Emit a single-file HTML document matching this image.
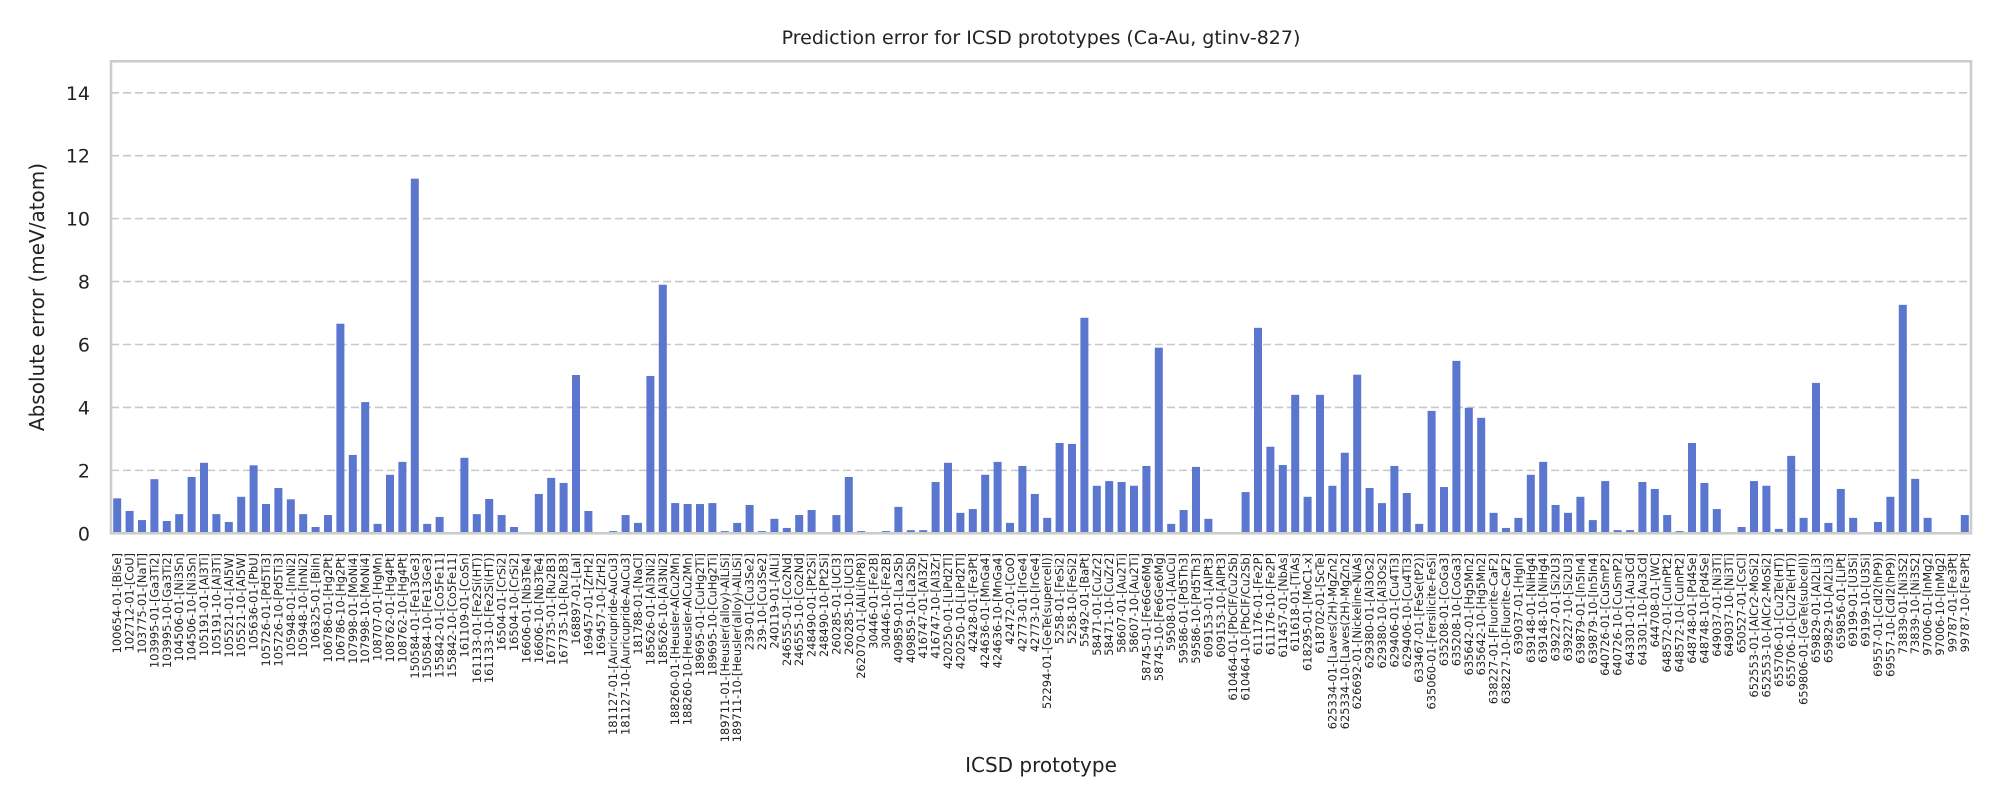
<!DOCTYPE html>
<html><head><meta charset="utf-8"><style>
html,body{margin:0;padding:0;background:#fff;}
svg{display:block;font-family:"DejaVu Sans","Liberation Sans",sans-serif;}
</style></head><body>
<svg id="chart" width="2000" height="800" viewBox="0 0 2000 800" xmlns="http://www.w3.org/2000/svg">
<text x="1041" y="44" font-size="19" text-anchor="middle" fill="#222">Prediction error for ICSD prototypes (Ca-Au, gtinv-827)</text>
<text transform="translate(44,297) rotate(-90)" font-size="20" text-anchor="middle" fill="#222">Absolute error (meV/atom)</text>
<text x="1041" y="772" font-size="20" text-anchor="middle" fill="#222">ICSD prototype</text>
<g id="grid"></g>
<g id="bars"></g>
<rect x="111" y="61.3" width="1860" height="472" fill="none" stroke="#cccccc" stroke-width="2.6"/>
<g id="yticks"></g>
<g id="xticks"></g>
</svg>
<script>
const categories = ["100654-01-[BiSe]","102712-01-[CoU]","103775-01-[NaTl]","103995-01-[Ga3Ti2]","103995-10-[Ga3Ti2]","104506-01-[Ni3Sn]","104506-10-[Ni3Sn]","105191-01-[Al3Ti]","105191-10-[Al3Ti]","105521-01-[Al5W]","105521-10-[Al5W]","105636-01-[PbU]","105726-01-[Pd5Ti3]","105726-10-[Pd5Ti3]","105948-01-[InNi2]","105948-10-[InNi2]","106325-01-[BiIn]","106786-01-[Hg2Pt]","106786-10-[Hg2Pt]","107998-01-[MoNi4]","107998-10-[MoNi4]","108707-01-[HgMn]","108762-01-[Hg4Pt]","108762-10-[Hg4Pt]","150584-01-[Fe13Ge3]","150584-10-[Fe13Ge3]","155842-01-[Co5Fe11]","155842-10-[Co5Fe11]","161109-01-[CoSn]","161133-01-[Fe2Si(HT)]","161133-10-[Fe2Si(HT)]","16504-01-[CrSi2]","16504-10-[CrSi2]","16606-01-[Nb3Te4]","16606-10-[Nb3Te4]","167735-01-[Ru2B3]","167735-10-[Ru2B3]","168897-01-[LaI]","169457-01-[ZrH2]","169457-10-[ZrH2]","181127-01-[Auricupride-AuCu3]","181127-10-[Auricupride-AuCu3]","181788-01-[NaCl]","185626-01-[Al3Ni2]","185626-10-[Al3Ni2]","188260-01-[Heusler-AlCu2Mn]","188260-10-[Heusler-AlCu2Mn]","189695-01-[CuHg2Ti]","189695-10-[CuHg2Ti]","189711-01-[Heusler(alloy)-AlLiSi]","189711-10-[Heusler(alloy)-AlLiSi]","239-01-[Cu3Se2]","239-10-[Cu3Se2]","240119-01-[AlLi]","246555-01-[Co2Nd]","246555-10-[Co2Nd]","248490-01-[Pt2Si]","248490-10-[Pt2Si]","260285-01-[UCl3]","260285-10-[UCl3]","262070-01-[AlLi(hP8)]","30446-01-[Fe2B]","30446-10-[Fe2B]","409859-01-[La2Sb]","409859-10-[La2Sb]","416747-01-[Al3Zr]","416747-10-[Al3Zr]","420250-01-[LiPd2Tl]","420250-10-[LiPd2Tl]","42428-01-[Fe3Pt]","424636-01-[MnGa4]","424636-10-[MnGa4]","42472-01-[CoO]","42773-01-[IrGe4]","42773-10-[IrGe4]","52294-01-[GeTe(supercell)]","5258-01-[FeSi2]","5258-10-[FeSi2]","55492-01-[BaPt]","58471-01-[CuZr2]","58471-10-[CuZr2]","58607-01-[Au2Ti]","58607-10-[Au2Ti]","58745-01-[Fe6Ge6Mg]","58745-10-[Fe6Ge6Mg]","59508-01-[AuCu]","59586-01-[Pd5Th3]","59586-10-[Pd5Th3]","609153-01-[AlPt3]","609153-10-[AlPt3]","610464-01-[PbClF/Cu2Sb]","610464-10-[PbClF/Cu2Sb]","611176-01-[Fe2P]","611176-10-[Fe2P]","611457-01-[NbAs]","611618-01-[TiAs]","618295-01-[MoC1-x]","618702-01-[ScTe]","625334-01-[Laves(2H)-MgZn2]","625334-10-[Laves(2H)-MgZn2]","626692-01-[Nickeline-NiAs]","629380-01-[Al3Os2]","629380-10-[Al3Os2]","629406-01-[Cu4Ti3]","629406-10-[Cu4Ti3]","633467-01-[FeSe(tP2)]","635060-01-[Fersilicite-FeSi]","635208-01-[CoGa3]","635208-10-[CoGa3]","635642-01-[Hg5Mn2]","635642-10-[Hg5Mn2]","638227-01-[Fluorite-CaF2]","638227-10-[Fluorite-CaF2]","639037-01-[HgIn]","639148-01-[NiHg4]","639148-10-[NiHg4]","639227-01-[Si2U3]","639227-10-[Si2U3]","639879-01-[In5In4]","639879-10-[In5In4]","640726-01-[CuSmP2]","640726-10-[CuSmP2]","643301-01-[Au3Cd]","643301-10-[Au3Cd]","644708-01-[WC]","648572-01-[CuInPt2]","648572-10-[CuInPt2]","648748-01-[Pd4Se]","648748-10-[Pd4Se]","649037-01-[Ni3Ti]","649037-10-[Ni3Ti]","650527-01-[CsCl]","652553-01-[AlCr2-MoSi2]","652553-10-[AlCr2-MoSi2]","655706-01-[Cu2Te(HT)]","655706-10-[Cu2Te(HT)]","659806-01-[GeTe(subcell)]","659829-01-[Al2Li3]","659829-10-[Al2Li3]","659856-01-[LiPt]","69199-01-[U3Si]","69199-10-[U3Si]","69557-01-[CdI2(hP9)]","69557-10-[CdI2(hP9)]","73839-01-[Ni3S2]","73839-10-[Ni3S2]","97006-01-[InMg2]","97006-10-[InMg2]","99787-01-[Fe3Pt]","99787-10-[Fe3Pt]"];
const errors = [1.11,0.71,0.42,1.72,0.39,0.61,1.79,2.24,0.61,0.36,1.16,2.16,0.93,1.44,1.08,0.61,0.2,0.58,6.66,2.49,4.17,0.3,1.86,2.27,11.27,0.3,0.52,0,2.4,0.61,1.09,0.58,0.2,0,1.25,1.76,1.6,5.03,0.71,0,0.07,0.58,0.33,5.0,7.9,0.96,0.93,0.93,0.96,0.07,0.33,0.9,0.07,0.46,0.17,0.58,0.74,0,0.58,1.79,0.07,0.04,0.07,0.84,0.1,0.1,1.63,2.24,0.65,0.77,1.86,2.27,0.33,2.14,1.25,0.49,2.87,2.84,6.85,1.51,1.66,1.63,1.51,2.14,5.9,0.3,0.74,2.11,0.46,0,0,1.31,6.53,2.75,2.17,4.4,1.16,4.4,1.51,2.56,5.04,1.44,0.96,2.14,1.28,0.3,3.89,1.47,5.48,3.99,3.67,0.65,0.17,0.49,1.86,2.27,0.9,0.65,1.16,0.42,1.66,0.1,0.1,1.63,1.41,0.58,0.07,2.87,1.6,0.77,0,0.2,1.66,1.51,0.14,2.46,0.49,4.78,0.33,1.41,0.49,0,0.36,1.16,7.26,1.73,0.49,0,0,0.58];
const yTicks = [0,2,4,6,8,10,12,14];
const yMax = 15;

const NS = "http://www.w3.org/2000/svg";
const PL = 111, PR = 1971, PT = 61.3, PB = 533.3;
const slot = (PR - PL) / categories.length;
function xScale(i){ return PL + slot * (i + 0.5); }
function yScale(v){ return PB - (v / yMax) * (PB - PT); }

const grid = document.getElementById('grid');
const yt = document.getElementById('yticks');
yTicks.forEach(t => {
  const y = yScale(t);
  if (t > 0) {
    const l = document.createElementNS(NS, 'line');
    
    
    l.setAttribute('x1', PL); l.setAttribute('x2', PR);
    l.setAttribute('y1', y); l.setAttribute('y2', y);
    l.setAttribute('stroke', '#c8c8c8'); l.setAttribute('stroke-width', '1.6');
    l.setAttribute('stroke-dasharray', '8,4');
    grid.appendChild(l);
  }
  const tx = document.createElementNS(NS, 'text');
  
  
  tx.setAttribute('x', 90); tx.setAttribute('y', y + 7);
  tx.setAttribute('text-anchor', 'end'); tx.setAttribute('font-size', '19');
  tx.setAttribute('fill', '#222');
  tx.textContent = t;
  yt.appendChild(tx);
});

const bars = document.getElementById('bars');
const xt = document.getElementById('xticks');
const bw = 8;
categories.forEach((c, i) => {
  const v = errors[i];
  const cx = xScale(i);
  const r = document.createElementNS(NS, 'rect');
  
  
  r.setAttribute('x', cx - bw / 2);
  r.setAttribute('y', yScale(v));
  r.setAttribute('width', bw);
  r.setAttribute('height', Math.max(0, PB - yScale(v)));
  r.setAttribute('fill', '#5a76cf');
  bars.appendChild(r);
  const tx = document.createElementNS(NS, 'text');
  
  
  tx.setAttribute('transform', 'translate(' + (cx + 4) + ',553) rotate(-90)');
  tx.setAttribute('text-anchor', 'end');
  tx.setAttribute('font-size', '11.4');
  tx.setAttribute('fill', '#222');
  tx.textContent = c;
  xt.appendChild(tx);
});
</script>
</body></html>
